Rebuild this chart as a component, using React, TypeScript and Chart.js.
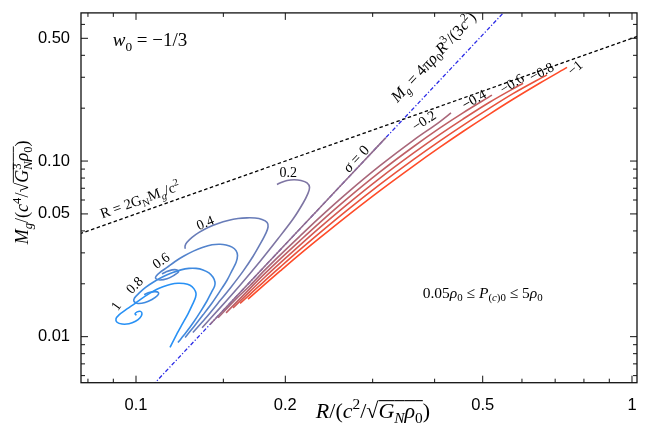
import React, { useEffect, useRef } from 'react';
import { Chart, registerables } from 'chart.js';

Chart.register(...registerables);

// ---------- axes ----------
const xRange = [0.07746, 1.0235];
const yRange = [0.005468, 0.6976];
const xMajorTicks = [0.1, 0.2, 0.5, 1];
const xMajorLabels = ['0.1', '0.2', '0.5', '1'];
const xMinorTicks = [0.08, 0.09, 0.15, 0.3, 0.4, 0.6, 0.7, 0.8, 0.9];
const yMajorTicks = [0.01, 0.05, 0.1, 0.5];
const yMajorLabels = ['0.01', '0.05', '0.10', '0.50'];
const yMinorTicks = [0.006, 0.007, 0.008, 0.009, 0.02, 0.03, 0.04, 0.06, 0.07, 0.08, 0.09, 0.2, 0.3, 0.4, 0.6];

// ---------- curves (R, Mg) ----------
const sigmaNames = ['1', '0.8', '0.6', '0.4', '0.2', '0', '-0.2', '-0.4', '-0.6', '-0.8', '-1'];

const rS10 = [0.1171, 0.1207, 0.1241, 0.1273, 0.13, 0.1318, 0.1321, 0.1308, 0.1285, 0.1249, 0.1215, 0.1176, 0.1133, 0.1102, 0.1067, 0.1023, 0.09862, 0.09502, 0.09241, 0.09113, 0.09156, 0.09371, 0.0968, 0.09977, 0.1019, 0.1028, 0.1021, 0.1005, 0.09954, 0.1002];
const mS10 = [0.008683, 0.01028, 0.01185, 0.01349, 0.01526, 0.0167, 0.0177, 0.01877, 0.01964, 0.02007, 0.02015, 0.01989, 0.01926, 0.01864, 0.0177, 0.01637, 0.01516, 0.01412, 0.01331, 0.01264, 0.01208, 0.0118, 0.01185, 0.01224, 0.01281, 0.01349, 0.01393, 0.01384, 0.01349, 0.01323];

const rS08 = [0.1215, 0.1261, 0.1308, 0.1352, 0.139, 0.142, 0.144, 0.1443, 0.143, 0.1403, 0.1365, 0.1321, 0.1279, 0.1232, 0.1182, 0.1133, 0.1087, 0.1047, 0.1014, 0.09931, 0.09908, 0.1009, 0.1043, 0.1077, 0.1105, 0.111, 0.1092, 0.1062, 0.1038];
const mS08 = [0.009265, 0.01055, 0.01216, 0.01403, 0.01596, 0.01793, 0.01939, 0.02041, 0.02178, 0.02308, 0.024, 0.02447, 0.02447, 0.024, 0.02308, 0.02192, 0.02055, 0.01914, 0.0177, 0.0166, 0.01586, 0.01546, 0.01566, 0.01628, 0.01714, 0.01782, 0.01805, 0.01782, 0.01736];

const rS06 = [0.1256, 0.1308, 0.1365, 0.1423, 0.1477, 0.1526, 0.1562, 0.1591, 0.1602, 0.1591, 0.1562, 0.1519, 0.1477, 0.1423, 0.1365, 0.1305, 0.1249, 0.1199, 0.1155, 0.1118, 0.1097, 0.1097, 0.1118, 0.1155, 0.1193, 0.1218, 0.121, 0.1182, 0.1149, 0.1128];
const mS06 = [0.009884, 0.0114, 0.01331, 0.01555, 0.01817, 0.02095, 0.02384, 0.02645, 0.02896, 0.0309, 0.03233, 0.03326, 0.03361, 0.03339, 0.03233, 0.0307, 0.02877, 0.0268, 0.02479, 0.02323, 0.02206, 0.02136, 0.02103, 0.02136, 0.02235, 0.02338, 0.024, 0.024, 0.02338, 0.02279];

const rS04 = [0.1302, 0.1378, 0.1464, 0.1554, 0.1643, 0.1721, 0.1786, 0.1829, 0.1846, 0.1838, 0.1795, 0.1738, 0.1674, 0.1606, 0.1533, 0.1464, 0.1397, 0.134, 0.1297, 0.1267, 0.1256, 0.1256];
const mS04 = [0.01055, 0.01264, 0.01555, 0.01914, 0.02354, 0.02859, 0.03427, 0.039, 0.04216, 0.04469, 0.04645, 0.04736, 0.04749, 0.04706, 0.04585, 0.04411, 0.04189, 0.03925, 0.0368, 0.03449, 0.03296, 0.0317];

const rS02 = [0.1359, 0.1477, 0.1621, 0.1778, 0.1933, 0.2073, 0.2171, 0.2222, 0.2238, 0.2212, 0.2151, 0.2083, 0.2016, 0.1961, 0.1924];
const mS02 = [0.01125, 0.01458, 0.01964, 0.0268, 0.03609, 0.04675, 0.05751, 0.06549, 0.07077, 0.07501, 0.07748, 0.07819, 0.07748, 0.0755, 0.07357];

const rS00 = [0.141, 0.18, 0.23, 0.28, 0.319];
const mS00 = [0.01174, 0.02443, 0.05097, 0.09196, 0.136];

const rSm02 = [0.1464, 0.1584, 0.1698, 0.182, 0.1961, 0.2141, 0.235, 0.2663, 0.3104, 0.3618, 0.4101, 0.4316];
const mSm02 = [0.01281, 0.01619, 0.01957, 0.024, 0.02953, 0.03742, 0.04792, 0.06565, 0.0941, 0.1308, 0.1679, 0.1881];

const rSm04 = [0.1519, 0.1698, 0.182, 0.1961, 0.2141, 0.235, 0.2663, 0.3104, 0.3618, 0.4101, 0.4563, 0.522];
const mSm04 = [0.01366, 0.01884, 0.02291, 0.028, 0.03526, 0.0448, 0.06091, 0.08671, 0.1202, 0.1544, 0.1881, 0.2372];

const rSm06 = [0.1569, 0.1698, 0.182, 0.1961, 0.2141, 0.235, 0.2663, 0.3104, 0.3618, 0.4101, 0.4563, 0.5172, 0.6031];
const mSm06 = [0.01458, 0.01812, 0.02186, 0.02655, 0.03322, 0.04189, 0.05648, 0.07994, 0.1105, 0.1419, 0.1734, 0.2169, 0.2775];

const rSm08 = [0.1621, 0.1698, 0.182, 0.1961, 0.2141, 0.235, 0.2663, 0.3104, 0.3618, 0.4101, 0.4563, 0.5172, 0.5755, 0.6738];
const mSm08 = [0.01548, 0.01743, 0.02087, 0.02518, 0.0313, 0.03915, 0.05242, 0.07366, 0.1016, 0.1304, 0.1598, 0.2007, 0.2419, 0.3097];

const rSm10 = [0.1682, 0.182, 0.1961, 0.2141, 0.235, 0.2663, 0.3104, 0.3618, 0.4101, 0.4563, 0.5172, 0.5755, 0.6524, 0.7396];
const mSm10 = [0.01637, 0.01992, 0.02388, 0.02949, 0.03661, 0.04861, 0.0679, 0.09336, 0.1199, 0.1473, 0.1857, 0.2247, 0.2782, 0.3414];

// reference lines
const rHorizon = [0.077, 1.03];          // R = 2 G M / c^2
const mHorizon = [0.0385, 0.515];
const rUniform = [0.105, 0.56];          // M = 4 pi rho R^3 / (3 c^2)
const mUniform = [0.004849, 0.7356];

// label anchors (data units)
const posLabelText = ['1', '0.8', '0.6', '0.4', '0.2'];
const posLabelR = [0.09113, 0.09931, 0.1123, 0.1378, 0.2028];
const posLabelM = [0.01496, 0.01964, 0.02715, 0.04452, 0.08591];
const negLabelText = ['\u22120.2', '\u22120.4', '\u22120.6', '\u22120.8', '\u22121'];
const negLabelR = [0.3806, 0.4802, 0.5728, 0.657, 0.7674];
const negLabelM = [0.1696, 0.224, 0.2757, 0.322, 0.3392];

// ---------- styles ----------
const curveColors = ['#2891f5', '#3e8ae0', '#5383cc', '#687cb8', '#7e75a3', '#936e8e', '#a9677a', '#be6066', '#d45951', '#e9523c', '#ff4b28'];
const posLabelAngles = [-55, -45, -35, -22, 0];
const negLabelAngles = [-33, -30, -32, -28, -40];
const SERIF = '"Liberation Serif", "Times New Roman", serif';

type Seg = [string, string];

function rich(ctx: any, segs: Seg[], cx: number, cy: number, size: number, angle = 0) {
  ctx.save();
  ctx.translate(cx, cy);
  ctx.rotate((angle * Math.PI) / 180);
  ctx.fillStyle = '#000';
  ctx.strokeStyle = '#000';
  ctx.textBaseline = 'alphabetic';
  ctx.textAlign = 'left';
  const items = segs.map(([t, s]) => {
    const sub = s.includes('b');
    const sup = s.includes('p');
    const it = s.includes('i');
    const fs = sub || sup ? size * 0.7 : size;
    const font = `${it ? 'italic ' : ''}${fs}px ${SERIF}`;
    ctx.font = font;
    const w = ctx.measureText(t).width;
    const dy = sub ? size * 0.22 : sup ? -size * 0.4 : 0;
    return { t, font, w, dy, ol: s.includes('o'), z: s.includes('z') };
  });
  const total = items.reduce((a, b) => a + (b.z ? 0 : b.w), 0);
  let x = -total / 2;
  const base = size * 0.32;
  for (const p of items) {
    ctx.font = p.font;
    ctx.fillText(p.t, x, base + p.dy);
    if (p.ol) {
      ctx.lineWidth = Math.max(0.8, size * 0.05);
      ctx.beginPath();
      ctx.moveTo(x, base - size * 0.8);
      ctx.lineTo(x + p.w, base - size * 0.8);
      ctx.stroke();
    }
    if (!p.z) x += p.w;
  }
  ctx.restore();
}

const overlay = {
  id: 'overlay',
  afterDatasetsDraw(chart: any) {
    const { ctx, scales } = chart;
    const X = (v: number) => scales.x.getPixelForValue(v);
    const Y = (v: number) => scales.y.getPixelForValue(v);
    posLabelText.forEach((t, i) => rich(ctx, [[t, 'r']], X(posLabelR[i]), Y(posLabelM[i]), 14, posLabelAngles[i]));
    negLabelText.forEach((t, i) => rich(ctx, [[t, 'r']], X(negLabelR[i]), Y(negLabelM[i]), 14, negLabelAngles[i]));
    rich(ctx, [['\u03c3', 'i'], [' = 0', 'r']], X(0.2777), Y(0.103), 15, -47);
    rich(ctx, [['w', 'i'], ['0', 'b'], [' = \u22121/3', 'r']], X(0.1067), Y(0.4874), 19, 0);
    rich(ctx, [['R = 2G', 'r'], ['N', 'b'], ['M', 'r'], ['g', 'bi'], ['/c', 'r'], ['2', 'p']], X(0.1019), Y(0.06017), 14.5, -20);
    rich(ctx, [['M', 'i'], ['g', 'bi'], [' = 4\u03c0', 'r'], ['\u03c1', 'i'], ['0', 'b'], ['R', 'i'], ['3', 'p'], ['/(3', 'r'], ['c', 'i'], ['2', 'p'], [')', 'r']], X(0.398), Y(0.3911), 16, -47);
    rich(ctx, [['0.05', 'r'], ['\u03c1', 'i'], ['0', 'b'], [' \u2264 ', 'r'], ['P', 'i'], ['(', 'b'], ['c', 'bi'], [')0', 'b'], [' \u2264 5', 'r'], ['\u03c1', 'i'], ['0', 'b']], X(0.5), Y(0.0177), 15.5, 0);
  },
  afterDraw(chart: any) {
    const { ctx, chartArea: a, scales } = chart;
    ctx.save();
    ctx.strokeStyle = '#111';
    ctx.lineWidth = 1.3;
    ctx.strokeRect(a.left, a.top, a.right - a.left, a.bottom - a.top);
    ctx.lineWidth = 1;
    const seg = (x1: number, y1: number, x2: number, y2: number) => {
      ctx.beginPath();
      ctx.moveTo(x1, y1);
      ctx.lineTo(x2, y2);
      ctx.stroke();
    };
    const xt = (v: number, len: number) => {
      const p = scales.x.getPixelForValue(v);
      seg(p, a.bottom, p, a.bottom - len);
      seg(p, a.top, p, a.top + len);
    };
    const yt = (v: number, len: number) => {
      const p = scales.y.getPixelForValue(v);
      seg(a.left, p, a.left + len, p);
      seg(a.right, p, a.right - len, p);
    };
    xMajorTicks.forEach((v) => xt(v, 7));
    xMinorTicks.forEach((v) => xt(v, 4));
    yMajorTicks.forEach((v) => yt(v, 7));
    yMinorTicks.forEach((v) => yt(v, 4));
    ctx.restore();
    // axis titles
    rich(ctx, [['R', 'i'], ['/(', 'r'], ['c', 'i'], ['2', 'p'], ['/', 'r'], ['\u221a', 'r'], ['G', 'io'], ['N', 'bio'], ['\u03c1', 'io'], ['0', 'bo'], [')', 'r']], a.left + 292, a.bottom + 28.5, 22, 0);
    rich(ctx, [['M', 'i'], ['g', 'bi'], ['/(', 'r'], ['c', 'i'], ['4', 'p'], ['/', 'r'], ['\u221a', 'r'], ['G', 'io'], ['3', 'pzo'], ['N', 'bio'], ['\u03c1', 'io'], ['0', 'bo'], [')', 'r']], a.left - 59, (a.top + a.bottom) / 2 - 5.5, 18, -90);
  },
};

function pts(r: number[], m: number[]) {
  return r.map((v, i) => ({ x: v, y: m[i] }));
}

export default function App() {
  const ref = useRef<HTMLCanvasElement | null>(null);
  useEffect(() => {
    const curveR = [rS10, rS08, rS06, rS04, rS02, rS00, rSm02, rSm04, rSm06, rSm08, rSm10];
    const curveM = [mS10, mS08, mS06, mS04, mS02, mS00, mSm02, mSm04, mSm06, mSm08, mSm10];
    const datasets: any[] = curveR.map((r, i) => ({
      label: `sigma=${sigmaNames[i]}`,
      data: pts(r, curveM[i]),
      showLine: true,
      borderColor: curveColors[i],
      borderWidth: 1.6,
      pointRadius: 0,
      tension: 0.3,
      cubicInterpolationMode: i >= 5 ? 'monotone' : 'default',
      order: 1,
    }));
    datasets.push({
      label: 'horizon',
      data: pts(rHorizon, mHorizon),
      showLine: true,
      borderColor: '#000',
      borderWidth: 1.3,
      borderDash: [3.5, 2.5],
      pointRadius: 0,
      order: 5,
    });
    datasets.push({
      label: 'uniform',
      data: pts(rUniform, mUniform),
      showLine: true,
      borderColor: '#2a2ae6',
      borderWidth: 1.3,
      borderDash: [4, 2, 1.2, 2],
      pointRadius: 0,
      order: 6,
    });
    const tickFont = { family: '"Liberation Sans", Arial, sans-serif', size: 16.5 };
    const chart = new Chart(ref.current as HTMLCanvasElement, {
      type: 'scatter',
      data: { datasets },
      options: {
        animation: false,
        responsive: true,
        maintainAspectRatio: false,
        layout: { padding: { left: 0, top: 8.3, right: 11, bottom: 0 } },
        plugins: { legend: { display: false }, tooltip: { enabled: false } },
        scales: {
          x: {
            type: 'logarithmic',
            position: 'bottom',
            min: xRange[0],
            max: xRange[1],
            bounds: 'data',
            grid: { display: false },
            border: { display: false },
            afterBuildTicks: (s: any) => {
              s.ticks = xMajorTicks.map((v) => ({ value: v }));
            },
            afterFit: (s: any) => {
              s.height = 46.3;
            },
            ticks: {
              autoSkip: false,
              maxRotation: 0,
              minRotation: 0,
              padding: 5,
              color: '#000',
              font: tickFont,
              callback: (v: any) => {
                const i = xMajorTicks.indexOf(Number(v));
                return i >= 0 ? xMajorLabels[i] : '';
              },
            },
          },
          y: {
            type: 'logarithmic',
            position: 'left',
            min: yRange[0],
            max: yRange[1],
            bounds: 'data',
            grid: { display: false },
            border: { display: false },
            afterBuildTicks: (s: any) => {
              s.ticks = yMajorTicks.map((v) => ({ value: v }));
            },
            afterFit: (s: any) => {
              s.width = 81;
            },
            ticks: {
              autoSkip: false,
              padding: 3,
              color: '#000',
              font: tickFont,
              callback: (v: any) => {
                const i = yMajorTicks.indexOf(Number(v));
                return i >= 0 ? yMajorLabels[i] : '';
              },
            },
          },
        },
      } as any,
      plugins: [overlay as any],
    });
    return () => chart.destroy();
  }, []);
  return (
    <div style={{ position: 'absolute', left: 0, top: 0, width: 648, height: 429, background: '#fff' }}>
      <canvas ref={ref} />
    </div>
  );
}
